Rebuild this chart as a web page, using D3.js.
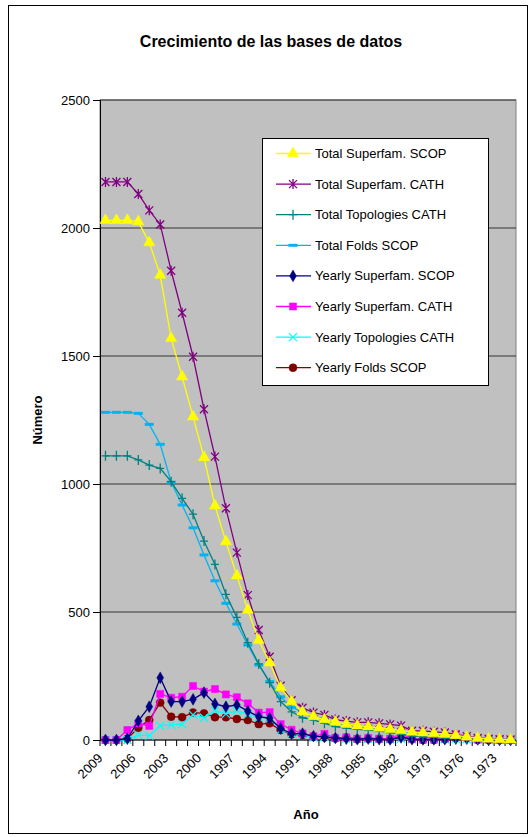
<!DOCTYPE html>
<html>
<head>
<meta charset="utf-8">
<script src="https://cdn.jsdelivr.net/npm/d3@7"></script>
<style>
  body { margin: 0; background: #fff; }
  text { font-family: "Liberation Sans", Arial, sans-serif; }
</style>
</head>
<body>
<div id="chart"></div>
<script>
// years run backwards, 2009 -> 1972
var years = d3.range(2009, 1971, -1);
var yTicks = [0, 500, 1000, 1500, 2000, 2500];

var totalSupSCOP = [2030,2030,2030,2025,1943,1816,1569,1419,1263,1104,915,775,642,508,390,302,205,150,110,92,80,70,62,56,52,47,42,37,31,28,25,22,18,12,7,4,2,1];
var totalSupCATH = [2180,2180,2180,2133,2069,2014,1833,1669,1497,1292,1107,905,732,566,430,325,212,155,126,107,98,80,74,69,69,65,61,56,36,36,32,29,22,15,8,5,3,2];
var totalTopCATH = [1110,1110,1110,1094,1074,1061,1009,944,882,777,686,569,479,380,297,224,150,110,87,78,65,52,46,42,39,35,29,23,16,12,10,8,6,5,3,2,1,0];
var totalFoldsSCOP = [1280,1280,1280,1276,1233,1155,1007,918,829,723,622,534,453,371,293,228,169,128,110,91,81,65,59,52,46,39,35,35,26,22,20,18,15,10,6,4,2,1];
var yearlySupSCOP = [0,0,5,75,130,243,150,150,159,185,141,130,137,113,91,85,45,25,25,15,12,8,5,3,5,3,2,10,3,2,2,3,5,5,2,0,0,0];
var yearlySupCATH = [0,0,39,65,55,180,165,169,211,189,199,178,167,143,107,109,62,40,26,15,24,8,10,5,8,5,5,25,5,3,3,5,22,10,3,2,2,0];
var yearlyTopCATH = [0,0,0,20,17,56,59,62,98,87,115,102,115,100,89,85,39,26,20,10,12,8,6,5,5,4,3,5,3,2,2,3,5,3,2,1,1,0];
var yearlyFoldsSCOP = [0,0,5,48,78,146,91,89,107,104,89,89,82,78,62,65,39,22,20,13,10,6,10,3,5,4,3,13,3,0,0,3,7,10,0,0,0,0];

var series = [
  {name: "Total Superfam. SCOP", values: totalSupSCOP, color: "#FFFF00", marker: "triangle"},
  {name: "Total Superfam. CATH", values: totalSupCATH, color: "#800080", marker: "asterisk"},
  {name: "Total Topologies CATH", values: totalTopCATH, color: "#008080", marker: "plus"},
  {name: "Total Folds SCOP", values: totalFoldsSCOP, color: "#00B4F0", marker: "dash"},
  {name: "Yearly Superfam. SCOP", values: yearlySupSCOP, color: "#000080", marker: "diamond"},
  {name: "Yearly Superfam. CATH", values: yearlySupCATH, color: "#FF00FF", marker: "square"},
  {name: "Yearly Topologies CATH", values: yearlyTopCATH, color: "#00FFFF", marker: "cross"},
  {name: "Yearly Folds SCOP", values: yearlyFoldsSCOP, color: "#800000", marker: "circle"}
];

var W = 529, H = 837;
var margin = {top: 100, right: 13, bottom: 97, left: 100};
var width = W - margin.left - margin.right;
var height = H - margin.top - margin.bottom;

var svg = d3.select("#chart").append("svg")
  .attr("width", W)
  .attr("height", H);

// outer frame
svg.append("rect")
  .attr("x", 8.5).attr("y", 5.5)
  .attr("width", 519).attr("height", 828)
  .attr("fill", "#fff").attr("stroke", "#000").attr("stroke-width", 1);

var g = svg.append("g").attr("transform", `translate(${margin.left}, ${margin.top})`);

var x = d3.scaleBand().domain(years).range([0, width]);
var y = d3.scaleLinear().domain([0, 2500]).range([height, 0]);
var cx = function(i) { return x(years[i]) + x.bandwidth() / 2; };

g.append("rect")
  .attr("width", width).attr("height", height)
  .attr("fill", "#C0C0C0")
  .attr("stroke", "#808080");

// gridlines
g.selectAll(".grid")
  .data(yTicks.slice(1))
  .enter().append("line")
  .attr("x1", 0).attr("x2", width)
  .attr("y1", d => y(d)).attr("y2", d => y(d))
  .attr("stroke", "#333").attr("stroke-width", 1.2);

// y axis
var yAxis = g.append("g")
  .call(d3.axisLeft(y).tickValues(yTicks).tickFormat(d3.format("d")).tickSize(7).tickPadding(3));
yAxis.select(".domain").attr("stroke", "#000");
yAxis.selectAll("text").style("font-size", "13px").attr("fill", "#000");

// x axis: ticks at category boundaries, labels every 3 years
var xg = g.append("g").attr("transform", `translate(0, ${height})`);
xg.append("line").attr("x1", 0).attr("x2", width).attr("stroke", "#000");
xg.selectAll(".xt")
  .data(years.concat([null]))
  .enter().append("line")
  .attr("x1", (d, i) => i * x.step()).attr("x2", (d, i) => i * x.step())
  .attr("y1", 0).attr("y2", 6)
  .attr("stroke", "#000");
xg.selectAll(".xl")
  .data(years.filter((d, i) => i % 3 === 0))
  .enter().append("text")
  .attr("transform", d => `translate(${x(d) + x.bandwidth() / 2 - 2}, 19) rotate(-45)`)
  .attr("text-anchor", "end")
  .style("font-size", "13px")
  .text(d => d);

function markerPath(type) {
  switch (type) {
    case "triangle": return d3.symbol(d3.symbolTriangle, 55)();
    case "diamond": return d3.symbol(d3.symbolDiamond, 40)();
    case "square": return d3.symbol(d3.symbolSquare, 50)();
    case "circle": return d3.symbol(d3.symbolCircle, 50)();
    case "asterisk": return "M-4,-4L4,4M-4,4L4,-4M0,-5L0,5";
    case "plus": return "M-4,0L4,0M0,-5L0,5";
    case "cross": return "M-4,-4L4,4M-4,4L4,-4";
    case "dash": return "M-4.5,0L4.5,0";
  }
}
function isStroke(type) { return ["asterisk", "plus", "cross", "dash"].indexOf(type) >= 0; }
function drawMarker(sel, s) {
  sel.attr("d", markerPath(s.marker));
  if (isStroke(s.marker)) {
    sel.attr("fill", "none").attr("stroke", s.color)
      .attr("stroke-width", s.marker === "dash" ? 3 : 1.3);
  } else {
    sel.attr("fill", s.color).attr("stroke", s.color).attr("stroke-width", 0.5);
  }
}

var line = d3.line().x((d, i) => cx(i)).y(d => y(d));

series.slice().reverse().forEach(function(s) {
  g.append("path")
    .datum(s.values)
    .attr("fill", "none")
    .attr("stroke", s.color)
    .attr("stroke-width", 1.3)
    .attr("d", line);
  g.selectAll(null)
    .data(s.values)
    .enter().append("path")
    .attr("transform", (d, i) => `translate(${cx(i)}, ${y(d)})`)
    .each(function() { drawMarker(d3.select(this), s); });
});

// legend
var leg = svg.append("g").attr("transform", "translate(262, 138)");
leg.append("rect")
  .attr("x", 0.5).attr("y", 0.5)
  .attr("width", 226).attr("height", 247)
  .attr("fill", "#fff").attr("stroke", "#000");
series.forEach(function(s, i) {
  var ly = 15.5 + i * 30.6;
  var item = leg.append("g").attr("transform", `translate(0, ${ly})`);
  item.append("line").attr("x1", 14).attr("x2", 49)
    .attr("stroke", s.color).attr("stroke-width", 1.3);
  item.append("path").attr("transform", "translate(31, 0)")
    .each(function() { drawMarker(d3.select(this), s); });
  item.append("text").attr("x", 53).attr("y", 4.5)
    .style("font-size", "13px").text(s.name);
});

// titles
svg.append("text")
  .attr("x", 271).attr("y", 47)
  .attr("text-anchor", "middle")
  .style("font-size", "16px").style("font-weight", "bold")
  .text("Crecimiento de las bases de datos");

svg.append("text")
  .attr("transform", "translate(42, 420) rotate(-90)")
  .attr("text-anchor", "middle")
  .style("font-size", "13px").style("font-weight", "bold")
  .text("Número");

svg.append("text")
  .attr("x", 306).attr("y", 819)
  .attr("text-anchor", "middle")
  .style("font-size", "13px").style("font-weight", "bold")
  .text("Año");
</script>
</body>
</html>
